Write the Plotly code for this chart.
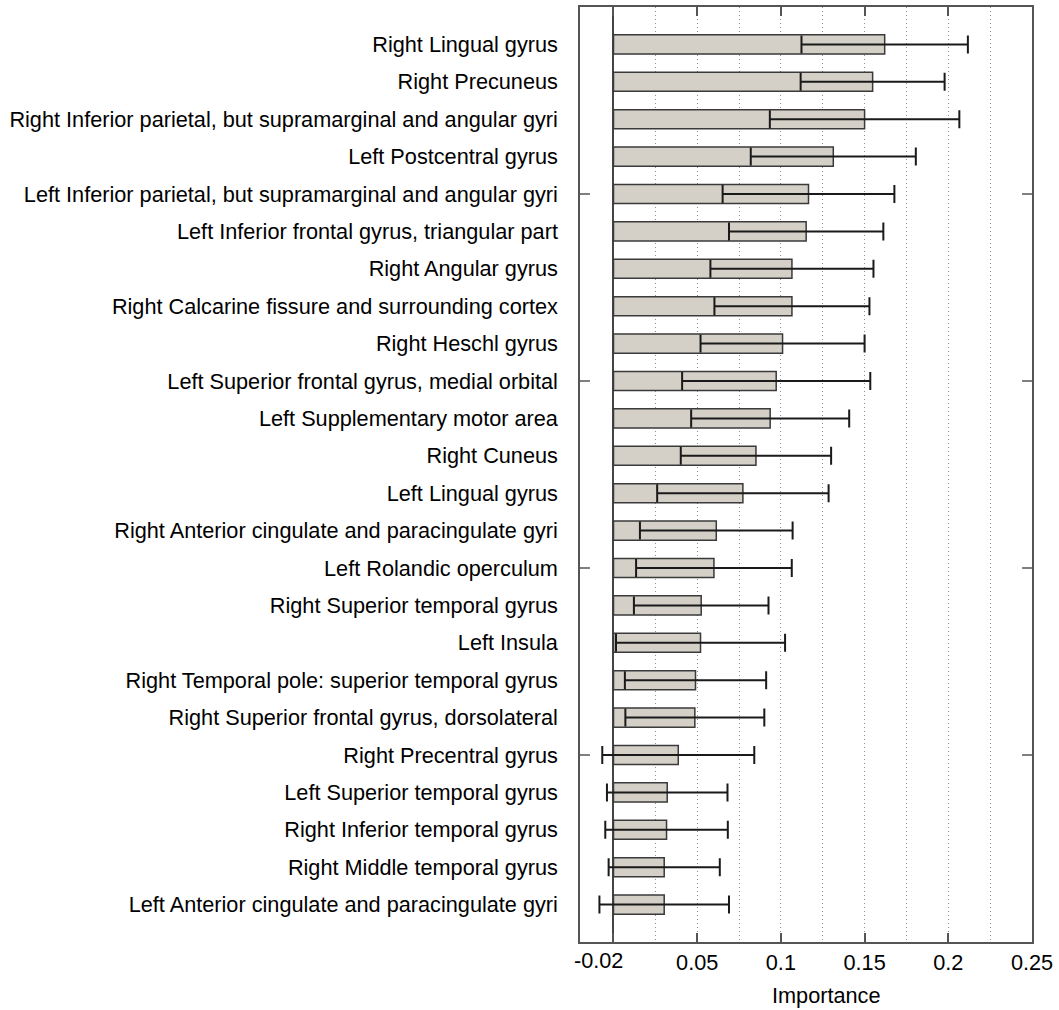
import plotly.graph_objects as go

# Brain regions ranked by feature importance (top to bottom)
regions = [
    "Right Lingual gyrus",
    "Right Precuneus",
    "Right Inferior parietal, but supramarginal and angular gyri",
    "Left Postcentral gyrus",
    "Left Inferior parietal, but supramarginal and angular gyri",
    "Left Inferior frontal gyrus, triangular part",
    "Right Angular gyrus",
    "Right Calcarine fissure and surrounding cortex",
    "Right Heschl gyrus",
    "Left Superior frontal gyrus, medial orbital",
    "Left Supplementary motor area",
    "Right Cuneus",
    "Left Lingual gyrus",
    "Right Anterior cingulate and paracingulate gyri",
    "Left Rolandic operculum",
    "Right Superior temporal gyrus",
    "Left Insula",
    "Right Temporal pole: superior temporal gyrus",
    "Right Superior frontal gyrus, dorsolateral",
    "Right Precentral gyrus",
    "Left Superior temporal gyrus",
    "Right Inferior temporal gyrus",
    "Right Middle temporal gyrus",
    "Left Anterior cingulate and paracingulate gyri",
]

importance = [0.162, 0.1548, 0.150, 0.1313, 0.1165, 0.1151, 0.1066, 0.1066,
              0.101, 0.0972, 0.0936, 0.0851, 0.0773, 0.0614, 0.060, 0.0524,
              0.052, 0.049, 0.0486, 0.0387, 0.0321, 0.0317, 0.0303, 0.0303]

importance_sd = [0.0497, 0.043, 0.0566, 0.0493, 0.0513, 0.0461, 0.0487, 0.0463,
                 0.049, 0.0562, 0.0472, 0.0449, 0.0512, 0.0456, 0.0465, 0.0402,
                 0.0505, 0.0422, 0.0415, 0.0454, 0.036, 0.0366, 0.0332, 0.0387]

x_tick_vals = [0, 0.05, 0.1, 0.15, 0.2, 0.25]
x_tick_text = ["", "0.05", "0.1", "0.15", "0.2", "0.25"]
x_min, x_max = -0.02, 0.25

FONT = "Liberation Sans, Arial, sans-serif"
FRAME = "#555555"
FS = 21.7

positions = list(range(len(regions)))

fig = go.Figure()
fig.add_trace(go.Bar(
    x=importance,
    y=positions,
    orientation="h",
    width=0.51,
    marker=dict(color="#d4d0c8", line=dict(color="#3a3a3a", width=1.5)),
    error_x=dict(type="data", array=importance_sd, symmetric=True,
                 color="#1a1a1a", thickness=2, width=9),
    showlegend=False,
))

# Small inward ticks every fifth region on both sides of the frame
shapes = []
for i in positions[4::5]:
    for x0, x1 in ((0, 0.022), (0.978, 1)):
        shapes.append(dict(type="line", xref="x domain", yref="y",
                           x0=x0, x1=x1, y0=i, y1=i,
                           line=dict(color=FRAME, width=1.5)))

fig.update_layout(
    width=1059, height=1010,
    margin=dict(l=580, r=27, t=7, b=68, autoexpand=False),
    paper_bgcolor="white", plot_bgcolor="white",
    font=dict(family=FONT, size=FS, color="black"),
    shapes=shapes,
    xaxis=dict(
        range=[x_min, x_max],
        automargin=False,
        tickvals=x_tick_vals, ticktext=x_tick_text,
        ticks="inside", ticklen=9, tickwidth=1.5, tickcolor=FRAME,
        showline=True, linecolor=FRAME, linewidth=1.5, mirror="ticks",
        showgrid=True, gridcolor="#8f8f8f", gridwidth=1, griddash="1px,3px",
        minor=dict(dtick=0.025, tick0=0, showgrid=True, gridcolor="#8f8f8f",
                   gridwidth=1, griddash="1px,3px", ticks=""),
        zeroline=True, zerolinecolor="#444444", zerolinewidth=1.5,
        tickfont=dict(size=FS),
        ticklabelstandoff=0,
    ),
    yaxis=dict(
        range=[len(regions), -1],
        automargin=False,
        tickvals=positions, ticktext=regions,
        ticks="", showgrid=False, zeroline=False,
        showline=True, linecolor=FRAME, linewidth=1.5, mirror=True,
        tickfont=dict(size=FS),
        ticklabelstandoff=16,
    ),
    annotations=[
        dict(text="-0.02", xref="x", yref="paper", x=x_min, y=-0.020,
             xanchor="left", yanchor="middle", xshift=-8, showarrow=False,
             font=dict(size=FS)),
        dict(text="Importance", xref="paper", yref="paper", x=0.546, y=-0.057,
             xanchor="center", yanchor="middle", showarrow=False,
             font=dict(size=FS)),
    ],
)

fig.write_html("out.html")
